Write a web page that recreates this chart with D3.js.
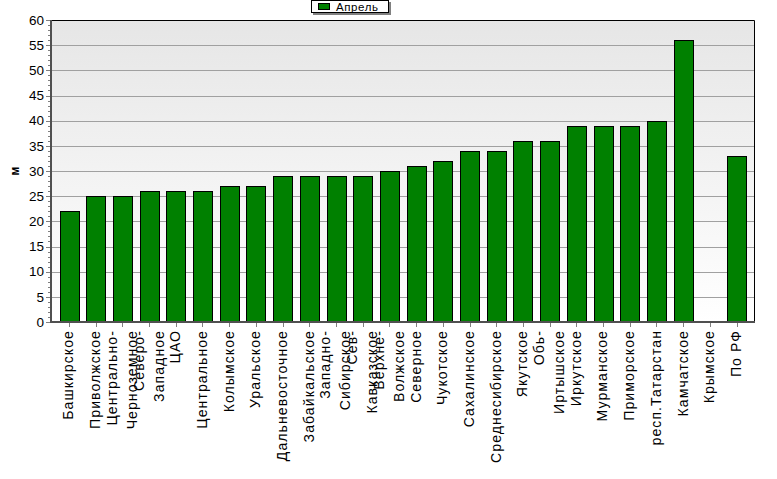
<!DOCTYPE html>
<html><head><meta charset="utf-8">
<script src="https://cdn.jsdelivr.net/npm/d3@7"></script>
<style>
html,body{margin:0;padding:0;background:#fff;}
svg{display:block;}
</style></head>
<body>
<script>
const categories = [
  "Башкирское","Приволжское","Центрально-\nЧерноземное","Северо-\nЗападное","ЦАО",
  "Центральное","Колымское","Уральское","Дальневосточное","Забайкальское",
  "Западно-\nСибирское","Сев-\nКавказское","Верхне-\nВолжское","Северное","Чукотское",
  "Сахалинское","Среднесибирское","Якутское","Обь-\nИртышское","Иркутское",
  "Мурманское","Приморское","респ.Татарстан","Камчатское","Крымское","По РФ"
];
const values = [22,25,25,26,26,26,27,27,29,29,29,29,30,31,32,34,34,36,36,39,39,39,40,56,null,33];
const seriesName = "Апрель";
const yTicks = [0,5,10,15,20,25,30,35,40,45,50,55,60];
const yLabel = "м";

const W = 777, H = 479;
const svg = d3.select("body").append("svg").attr("width", W).attr("height", H);

const plot = {left: 51, right: 754, top: 20, bottom: 322};
const y = d3.scaleLinear().domain([0, 60]).range([plot.bottom, plot.top]);
const x = d3.scaleBand().domain(categories).range([55.65, 749.85])
  .paddingInner(0.29).paddingOuter(0.145);

const defs = svg.append("defs");
const grad = defs.append("linearGradient").attr("id","bg").attr("x1",0).attr("y1",0).attr("x2",0).attr("y2",1);
grad.append("stop").attr("offset","0%").attr("stop-color","#e6e6e6");
grad.append("stop").attr("offset","100%").attr("stop-color","#ffffff");

svg.append("rect").attr("x", plot.left).attr("y", plot.top)
  .attr("width", plot.right - plot.left).attr("height", plot.bottom - plot.top)
  .attr("fill", "url(#bg)");

// gridlines
svg.append("g").selectAll("line").data(yTicks.filter(t => t > 0 && t < 60)).join("line")
  .attr("x1", plot.left).attr("x2", plot.right)
  .attr("y1", d => Math.round(y(d)) + 0.5).attr("y2", d => Math.round(y(d)) + 0.5)
  .attr("stroke", "#a0a0a0").attr("stroke-width", 1);

// top & right border
svg.append("path").attr("d", `M${plot.left},${plot.top+0.5}H${plot.right+0.5}V${plot.bottom}`)
  .attr("fill","none").attr("stroke","#000").attr("stroke-width",1);

// bars
svg.append("g").selectAll("rect").data(categories.map((c,i)=>({c, v: values[i]})).filter(d => d.v != null)).join("rect")
  .attr("x", d => Math.round(x(d.c)) + 0.5)
  .attr("y", d => Math.round(y(d.v)) + 0.5)
  .attr("width", Math.round(x.bandwidth()))
  .attr("height", d => Math.round(y(0)) - Math.round(y(d.v)))
  .attr("fill", "#008000").attr("stroke", "#000").attr("stroke-width", 1);

// y axis
const minor = d3.range(0, 61, 1).filter(v => v % 5 !== 0);
svg.append("g").selectAll("line").data(minor).join("line")
  .attr("x1", plot.left - 3).attr("x2", plot.left)
  .attr("y1", d => Math.round(y(d)) + 0.5).attr("y2", d => Math.round(y(d)) + 0.5)
  .attr("stroke", "#808080");
svg.append("g").selectAll("line").data(yTicks).join("line")
  .attr("x1", plot.left - 5).attr("x2", plot.left)
  .attr("y1", d => Math.round(y(d)) + 0.5).attr("y2", d => Math.round(y(d)) + 0.5)
  .attr("stroke", "#808080");
svg.append("g").selectAll("text").data(yTicks).join("text")
  .attr("x", 44).attr("y", d => y(d)).attr("dy", "0.35em")
  .attr("text-anchor", "end")
  .attr("font-family", "Liberation Sans, Arial, sans-serif").attr("font-size", 13.5)
  .attr("fill", "#000").text(d => d);

// x ticks
svg.append("g").selectAll("line").data(categories).join("line")
  .attr("x1", d => Math.round(x(d) + x.bandwidth()/2) + 0.5)
  .attr("x2", d => Math.round(x(d) + x.bandwidth()/2) + 0.5)
  .attr("y1", plot.bottom).attr("y2", plot.bottom + 5)
  .attr("stroke", "#808080");

// axis lines
svg.append("line").attr("x1", plot.left).attr("x2", plot.left)
  .attr("y1", plot.top).attr("y2", plot.bottom + 1).attr("stroke", "#505050").attr("stroke-width", 2);
svg.append("line").attr("x1", plot.left - 1).attr("x2", plot.right + 1)
  .attr("y1", plot.bottom).attr("y2", plot.bottom).attr("stroke", "#505050").attr("stroke-width", 2);

// x labels
const lab = svg.append("g");
categories.forEach(c => {
  const lines = c.split("\n");
  const cx = x(c) + x.bandwidth()/2;
  lines.forEach((ln, j) => {
    const off = (j - (lines.length - 1)/2) * 20;
    lab.append("text")
      .attr("transform", `translate(${cx + off},330) rotate(-90)`)
      .attr("dy", "0.32em").attr("text-anchor", "end")
      .attr("font-family", "Liberation Sans, Arial, sans-serif").attr("font-size", 14)
      .attr("letter-spacing", 1.1)
      .attr("fill", "#000").text(ln);
  });
});

// y label
svg.append("text").attr("transform", `translate(15,${(plot.top+plot.bottom)/2}) rotate(-90)`)
  .attr("text-anchor","middle").attr("dy","0.35em")
  .attr("font-family","Liberation Sans, Arial, sans-serif").attr("font-size",12).attr("font-weight","bold")
  .text(yLabel);

// legend
const lg = svg.append("g");
lg.append("rect").attr("x", 313).attr("y", 2).attr("width", 78).attr("height", 13).attr("fill", "#808080");
lg.append("rect").attr("x", 311.5).attr("y", 0.5).attr("width", 77).attr("height", 12).attr("fill", "#fff").attr("stroke", "#000");
lg.append("rect").attr("x", 318.5).attr("y", 3.5).attr("width", 11).attr("height", 6).attr("fill", "#008000").attr("stroke", "#000");
lg.append("text").attr("x", 336).attr("y", 11).attr("font-family","Liberation Sans, Arial, sans-serif")
  .attr("font-size", 11.5).attr("letter-spacing", 0.6).text(seriesName);
</script>
</body></html>
